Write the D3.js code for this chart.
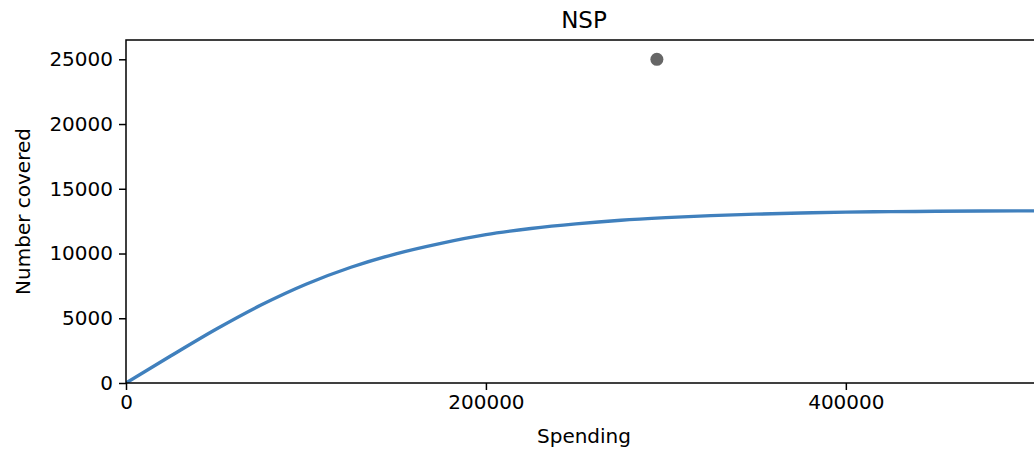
<!DOCTYPE html>
<html>
<head>
<meta charset="utf-8">
<script src="https://cdn.jsdelivr.net/npm/d3@7"></script>
<style>
  html, body { margin: 0; padding: 0; background: #fff; }
  svg { display: block; }
  text { font-family: "DejaVu Sans", sans-serif; fill: #000; }
</style>
</head>
<body>
<div id="chart"></div>
<script>
// Coverage curve: spending vs number covered
const spending = [0, 25000, 50000, 75000, 100000, 125000, 150000, 175000, 200000,
  225000, 250000, 275000, 300000, 325000, 350000, 375000, 400000, 425000, 450000,
  475000, 500000, 525000];
const covered = [0, 2100, 4150, 6020, 7630, 8940, 9980, 10790, 11460,
  11930, 12290, 12570, 12770, 12930, 13040, 13130, 13200, 13235, 13260,
  13280, 13295, 13305];

// Observed point
const observedSpending = [295000];
const observedCovered = [25000];

const xTicks = [0, 200000, 400000];
const yTicks = [0, 5000, 10000, 15000, 20000, 25000];

const W = 1034, H = 456;
const margin = { left: 126, right: 1042, top: 40, bottom: 383 };

const svg = d3.select("#chart").append("svg")
  .attr("width", W).attr("height", H);

const x = d3.scaleLinear().domain([0, 509000]).range([margin.left, margin.right]);
const y = d3.scaleLinear().domain([0, 26490]).range([margin.bottom, margin.top]);

const clip = svg.append("clipPath").attr("id", "plot-clip")
  .append("rect")
  .attr("x", margin.left).attr("y", margin.top)
  .attr("width", margin.right - margin.left)
  .attr("height", margin.bottom - margin.top);

const plot = svg.append("g").attr("clip-path", "url(#plot-clip)");

const line = d3.line()
  .x((d, i) => x(spending[i]))
  .y((d, i) => y(covered[i]))
  .curve(d3.curveMonotoneX);

plot.append("path")
  .datum(covered)
  .attr("d", line)
  .attr("fill", "none")
  .attr("stroke", "#4080bd")
  .attr("stroke-width", 3.4)
  .attr("stroke-linejoin", "round");

plot.selectAll("circle.obs")
  .data(observedSpending)
  .enter().append("circle")
  .attr("class", "obs")
  .attr("cx", d => x(d))
  .attr("cy", (d, i) => y(observedCovered[i]))
  .attr("r", 6.5)
  .attr("fill", "#666666");

// Axes
const xAxis = d3.axisBottom(x).tickValues(xTicks).tickFormat(d3.format("d"))
  .tickSize(7).tickPadding(5);
const yAxis = d3.axisLeft(y).tickValues(yTicks).tickFormat(d3.format("d"))
  .tickSize(7).tickPadding(6);

const gx = svg.append("g")
  .attr("transform", `translate(0,${margin.bottom})`)
  .call(xAxis);
const gy = svg.append("g")
  .attr("transform", `translate(${margin.left},0)`)
  .call(yAxis);

[gx, gy].forEach(g => {
  g.select(".domain").remove();
  g.selectAll(".tick line").attr("stroke", "#000").attr("stroke-width", 1.5);
  g.selectAll(".tick text")
    .style("font-family", "'DejaVu Sans', sans-serif")
    .style("font-size", "20px")
    .attr("fill", "#000");
});

// Frame (left, bottom, top spines)
svg.append("rect")
  .attr("x", margin.left).attr("y", margin.top)
  .attr("width", margin.right - margin.left)
  .attr("height", margin.bottom - margin.top)
  .attr("fill", "none")
  .attr("stroke", "#000")
  .attr("stroke-width", 1.5);

// Title and axis labels
const cx = (margin.left + margin.right) / 2;
svg.append("text")
  .attr("x", cx).attr("y", 28)
  .attr("text-anchor", "middle")
  .style("font-size", "23px")
  .text("NSP");

svg.append("text")
  .attr("x", cx).attr("y", 443)
  .attr("text-anchor", "middle")
  .style("font-size", "20px")
  .text("Spending");

svg.append("text")
  .attr("transform", `translate(30,${(margin.top + margin.bottom) / 2}) rotate(-90)`)
  .attr("text-anchor", "middle")
  .style("font-size", "20px")
  .text("Number covered");
</script>
</body>
</html>
